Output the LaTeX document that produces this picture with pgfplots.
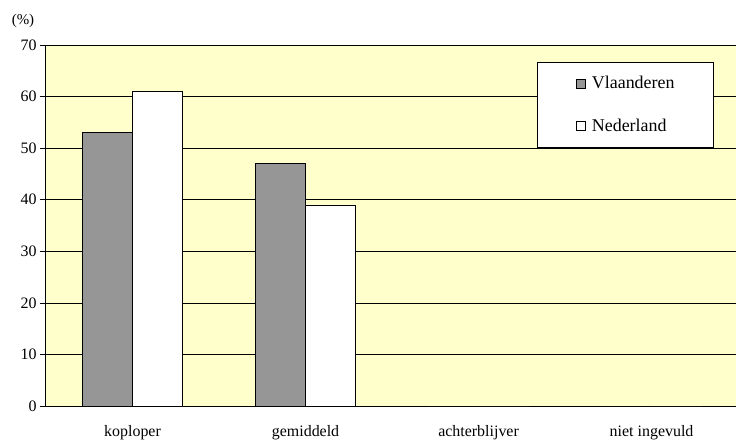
\documentclass[border=0pt]{standalone}
\usepackage{fontspec}
\setmainfont{Liberation Serif}
\usepackage{pgfplots}
\pgfplotsset{compat=1.18}
\definecolor{plotbg}{HTML}{FFFFCC}
\definecolor{vlgrey}{HTML}{969696}
\begin{document}
\begin{tikzpicture}
\begin{axis}[
  at={(0,0)}, anchor=south west,
  scale only axis, width=691bp, height=361bp,
  axis background/.style={fill=plotbg},
  ybar, bar width=50bp, ybar=0pt,
  xmin=-0.506, xmax=3.488, ymin=0, ymax=70,
  ytick={0,10,...,70},
  ymajorgrids, grid style={black, line width=0.6bp},
  axis x line*=bottom, axis y line*=left,
  axis line style={black, line width=0.6bp},
  tick align=outside, major tick length=5bp,
  tick style={black, line width=0.6bp},
  xtick={0,1,2,3},
  xticklabels={koploper,gemiddeld,achterblijver,niet ingevuld},
  x tick style={draw=none},
  extra x ticks={0.5,1.5,2.5},
  extra x tick labels={},
  extra x tick style={tick style={black, line width=0.6bp}, major tick length=5bp},
  xticklabel style={font=\fontsize{16}{18}\selectfont, yshift=-11bp},
  yticklabel style={font=\fontsize{16}{18}\selectfont},
  /pgf/number format/assume math mode=true,
  legend style={at={(492/691,1-17/361)}, anchor=north west,
    draw=black, fill=white, line width=0.6bp,
    inner xsep=37bp, inner ysep=12bp, row sep=25bp,
    font=\fontsize{18}{20}\selectfont, legend cell align=left},
  legend image code/.code={\draw[#1, line width=0.5bp] (2bp,-4.5bp) rectangle (11bp,4.5bp);
    \path (0bp,0bp) (15bp,0bp);},
]
\addplot[draw=black, fill=vlgrey, line width=0.6bp] coordinates {(0,53) (1,47) (2,0) (3,0)};
\addlegendentry{Vlaanderen}
\addplot[draw=black, fill=white, line width=0.6bp] coordinates {(0,61) (1,39) (2,0) (3,0)};
\addlegendentry{Nederland}
\end{axis}
\node[anchor=base, font=\fontsize{15}{17}\selectfont] at (-22bp,381bp) {(\%)};
\pgfresetboundingbox
\path[use as bounding box] (-45bp,-34bp) rectangle (691bp,406bp);
\end{tikzpicture}
\end{document}
